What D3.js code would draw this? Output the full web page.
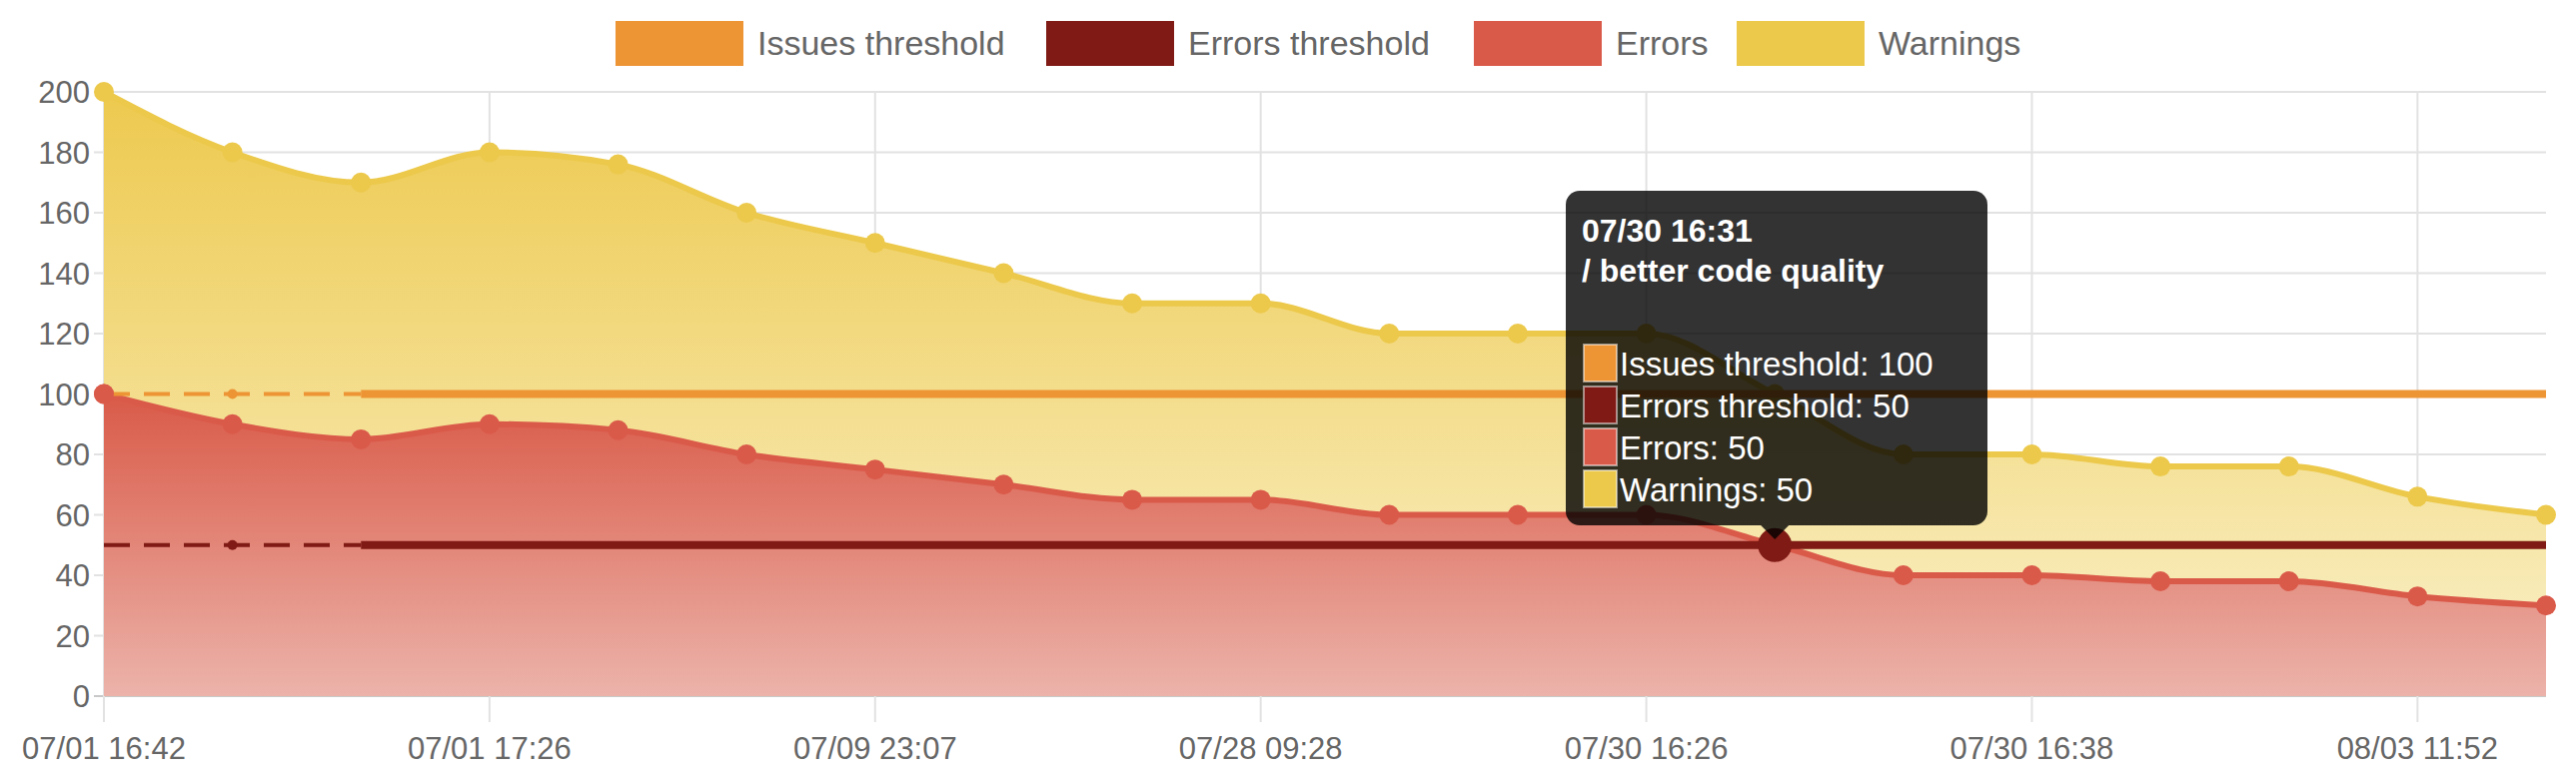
<!DOCTYPE html><html><head><meta charset="utf-8">
<script src="https://cdn.jsdelivr.net/npm/d3@7"></script>
<style>body{margin:0;background:#fff}svg{display:block;font-family:"Liberation Sans",Arial,sans-serif}</style></head><body>
<svg id="c" width="2578" height="785"></svg>
<script>
const categories=["07/01 16:42","","","07/01 17:26","","","07/09 23:07","","","07/28 09:28","","","07/30 16:26","07/30 16:31","","07/30 16:38","","","08/03 11:52",""];
const errors=[100,90,85,90,88,80,75,70,65,65,60,60,60,50,40,40,38,38,33,30];
const warnings=[100,90,85,90,88,80,75,70,65,65,60,60,60,50,40,40,38,38,33,30];
const issuesThreshold=categories.map(()=>100);
const errorsThreshold=categories.map(()=>50);
const yTicks=[0,20,40,60,80,100,120,140,160,180,200];
const legendNames=["Issues threshold","Errors threshold","Errors","Warnings"];
const colors={issues:"#ed9435",errT:"#7f1a14",err:"#da5a4a",warn:"#ecc94b"};

const svg=d3.select("#c");
const L=104,R=2548,T=92,B=697;
const x=d3.scaleLinear().domain([0,categories.length-1]).range([L,R]);
const y=d3.scaleLinear().domain([0,200]).range([B,T]);
const defs=svg.append("defs");
function grad(id,c1,c2){const g=defs.append("linearGradient").attr("id",id).attr("x1",0).attr("y1",0).attr("x2",0).attr("y2",1);
g.append("stop").attr("offset","0%").attr("stop-color",c1);g.append("stop").attr("offset","100%").attr("stop-color",c2);}
grad("gw","#edc94e","#f8ebb8");grad("gr","#d95a48","#ecb3aa");

svg.append("g").selectAll("line").data(yTicks).join("line").attr("x1",L-10).attr("x2",R).attr("y1",d=>y(d)).attr("y2",d=>y(d)).attr("stroke",d=>d===0?"#c8c8c8":"#e2e2e2").attr("stroke-width",2);
const xt=d3.range(0,categories.length,3);
svg.append("g").selectAll("line").data(xt).join("line").attr("x1",d=>x(d)).attr("x2",d=>x(d)).attr("y1",T).attr("y2",B+26).attr("stroke","#e2e2e2").attr("stroke-width",2);
svg.append("g").selectAll("text").data(yTicks).join("text").attr("x",L-14).attr("y",d=>y(d)+11).attr("text-anchor","end").attr("font-size",31).attr("fill","#666").text(d=>d);
svg.append("g").selectAll("text").data(xt).join("text").attr("x",d=>x(d)).attr("y",760).attr("text-anchor","middle").attr("font-size",31).attr("fill","#666").text(d=>categories[d]);

const curve=d3.curveMonotoneX;
const stackTop=errors.map((e,i)=>e+warnings[i]);
const idx=d3.range(categories.length);
svg.append("path").attr("d",d3.area().x(i=>x(i)).y0(i=>y(errors[i])).y1(i=>y(stackTop[i])).curve(curve)(idx)).attr("fill","url(#gw)");
svg.append("path").attr("d",d3.area().x(i=>x(i)).y0(B).y1(i=>y(errors[i])).curve(curve)(idx)).attr("fill","url(#gr)");
function line(vals,col,w){svg.append("path").attr("d",d3.line().x(i=>x(i)).y(i=>y(vals[i])).curve(curve)(idx)).attr("fill","none").attr("stroke",col).attr("stroke-width",w);}
line(stackTop,colors.warn,6);line(errors,colors.err,6);
function pts(vals,col,r){svg.append("g").selectAll("circle").data(idx).join("circle").attr("cx",i=>x(i)).attr("cy",i=>y(vals[i])).attr("r",r).attr("fill",col);}
pts(stackTop,colors.warn,10);pts(errors,colors.err,10);
function thr(vals,col){
 svg.append("path").attr("d",d3.line().x(i=>x(i)).y(i=>y(vals[i]))([0,2])).attr("stroke",col).attr("stroke-width",4).attr("stroke-dasharray","26,14").attr("fill","none");
 svg.append("path").attr("d",d3.line().x(i=>x(i)).y(i=>y(vals[i]))(idx.slice(2))).attr("stroke",col).attr("stroke-width",8).attr("fill","none");
 svg.append("circle").attr("cx",x(1)).attr("cy",y(vals[1])).attr("r",5).attr("fill",col);
}
thr(issuesThreshold,colors.issues);thr(errorsThreshold,colors.errT);
svg.append("circle").attr("cx",x(0)).attr("cy",y(errors[0])).attr("r",10).attr("fill",colors.err);
svg.append("circle").attr("cx",x(13)).attr("cy",y(errors[13])).attr("r",17).attr("fill",colors.errT);

const lx=[616,1047,1475,1738],lc=[colors.issues,colors.errT,colors.err,colors.warn];
legendNames.forEach((n,i)=>{svg.append("rect").attr("x",lx[i]).attr("y",21).attr("width",128).attr("height",45).attr("fill",lc[i]);
svg.append("text").attr("x",lx[i]+142).attr("y",55).attr("font-size",34).attr("fill","#666").text(n);});

const tx=1567,ty=191,tw=422,th=335;
const tg=svg.append("g");
tg.append("rect").attr("x",tx).attr("y",ty).attr("width",tw).attr("height",th).attr("rx",14).attr("fill","rgba(0,0,0,0.8)");
tg.append("path").attr("d",`M${x(13)-14},${ty+th}L${x(13)},${ty+th+14}L${x(13)+14},${ty+th}Z`).attr("fill","rgba(0,0,0,0.8)");
tg.append("text").attr("x",tx+16).attr("y",ty+51).attr("font-size",32).attr("font-weight","bold").attr("fill","#fff").text("07/30 16:31");
tg.append("text").attr("x",tx+16).attr("y",ty+91).attr("font-size",32).attr("font-weight","bold").attr("fill","#fff").text("/ better code quality");
const tv=[issuesThreshold[13],errorsThreshold[13],errors[13],warnings[13]];
legendNames.forEach((n,i)=>{const yy=ty+154+i*42;
tg.append("rect").attr("x",tx+18).attr("y",yy).attr("width",33).attr("height",37).attr("fill",lc[i]).attr("stroke","#fff").attr("stroke-opacity",0.5).attr("stroke-width",2);
tg.append("text").attr("x",tx+54).attr("y",yy+31).attr("font-size",33).attr("fill","#fff").text(n+": "+tv[i]);});
</script></body></html>
